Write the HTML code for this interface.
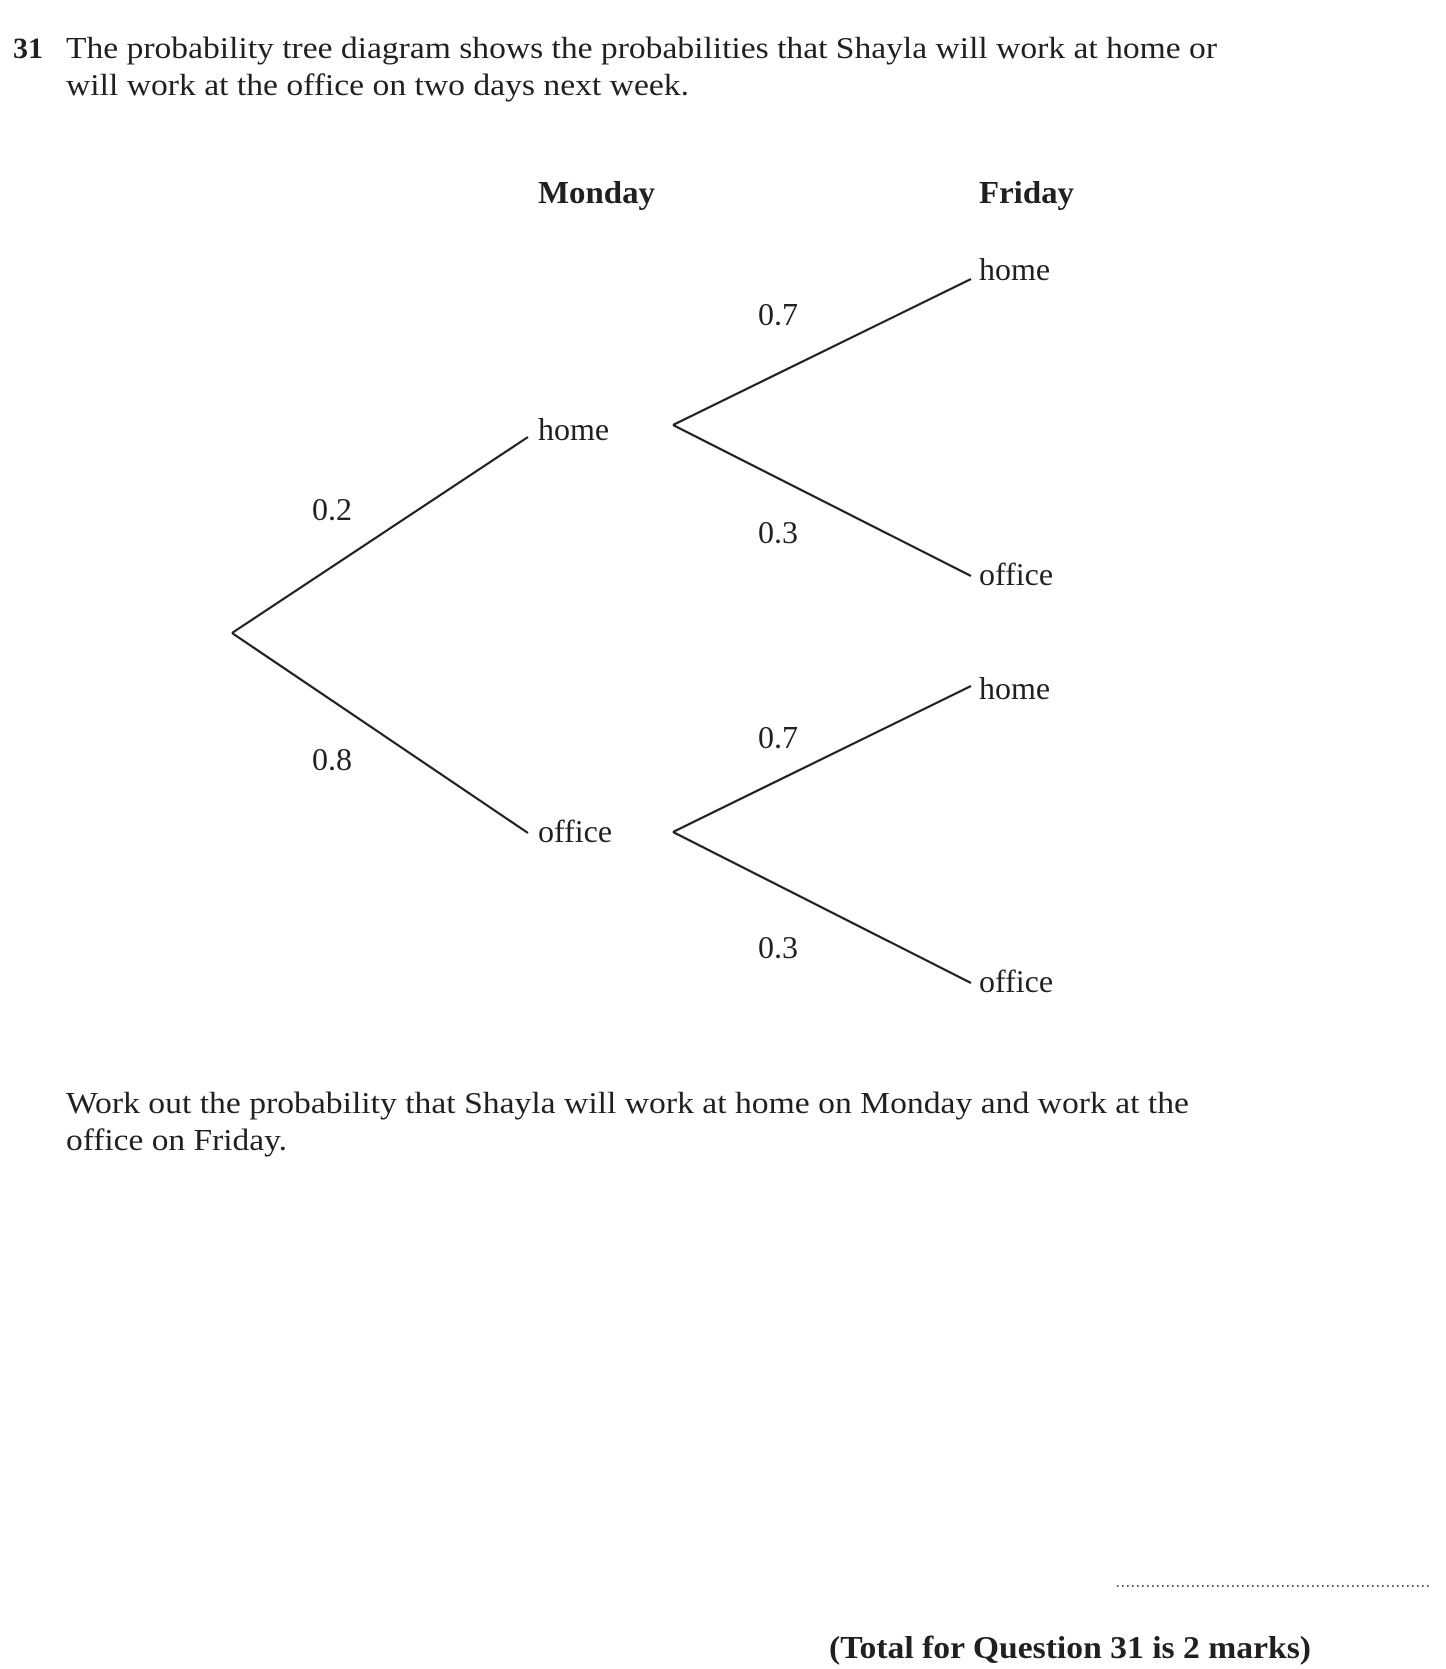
<!DOCTYPE html>
<html><head><meta charset="utf-8"><style>
html,body{margin:0;padding:0;background:#fff;}
svg{display:block;font-family:"Liberation Serif",serif;fill:#231f20;}
</style></head><body>
<svg id="s" width="1446" height="1669" viewBox="0 0 1446 1669">
<text x="13" y="58" font-size="30" font-weight="bold">31</text>
<text x="66" y="58" font-size="31" textLength="1151" lengthAdjust="spacingAndGlyphs">The probability tree diagram shows the probabilities that Shayla will work at home or</text>
<text x="66" y="95" font-size="31" textLength="623" lengthAdjust="spacingAndGlyphs">will work at the office on two days next week.</text>
<text x="538" y="203" font-size="32" font-weight="bold" textLength="117" lengthAdjust="spacingAndGlyphs">Monday</text>
<text x="979" y="203" font-size="32" font-weight="bold" textLength="95" lengthAdjust="spacingAndGlyphs">Friday</text>
<g id="tree"></g>
<text x="66" y="1113" font-size="31" textLength="1123" lengthAdjust="spacingAndGlyphs">Work out the probability that Shayla will work at home on Monday and work at the</text>
<text x="66" y="1150" font-size="31" textLength="221" lengthAdjust="spacingAndGlyphs">office on Friday.</text>
<line x1="1117" y1="1586" x2="1432" y2="1586" stroke="#231f20" stroke-width="1.6" stroke-dasharray="1.6,3.4"/>
<text x="829" y="1658" font-size="32" font-weight="bold" textLength="482" lengthAdjust="spacingAndGlyphs">(Total for Question 31 is 2 marks)</text>
</svg>
<script>
const mondayOutcomes = ["home", "office"];
const mondayProbs = ["0.2", "0.8"];
const fridayOutcomes = ["home", "office"];
const fridayProbs = ["0.7", "0.3"];

const NS = "http://www.w3.org/2000/svg";
const g = document.getElementById("tree");
function line(x1,y1,x2,y2,name){
  const l=document.createElementNS(NS,"line");
  l.setAttribute("x1",x1);l.setAttribute("y1",y1);l.setAttribute("x2",x2);l.setAttribute("y2",y2);
  l.setAttribute("stroke","#231f20");l.setAttribute("stroke-width","2.2");
  
  
  g.appendChild(l);
}
function text(x,y,s,name){
  const t=document.createElementNS(NS,"text");
  t.setAttribute("x",x);t.setAttribute("y",y);t.setAttribute("font-size","32");
  t.textContent=s;
  
  
  g.appendChild(t);
}
const root={x:232,y:633};
const midY=[437,833], midEndX=528, midLabelX=538;
const midLabelDy=[3,9];
const nodeX=673, nodeY=[425,832];
const leafX=971, leafOff=[-146,151];
const leafLabelX=979;
const leafLabelDy=[[1,9],[13,9]];
const probDy=[[-100,118],[-84,126]];
mondayOutcomes.forEach((o,i)=>{
  line(root.x,root.y,midEndX,midY[i],"branch-monday-"+o);
  text(midLabelX,midY[i]+midLabelDy[i],o,"label-monday-"+o);
  text(312,i===0?520:770,mondayProbs[i],"prob-monday-"+o);
  fridayOutcomes.forEach((f,j)=>{
    const ey=nodeY[i]+leafOff[j];
    line(nodeX,nodeY[i],leafX,ey,"branch-"+o+"-"+f);
    text(leafLabelX,ey+leafLabelDy[i][j],f,"label-friday-"+o+"-"+f);
    text(758,nodeY[i]+probDy[i][j],fridayProbs[j],"prob-"+o+"-"+f);
  });
});
</script>
</body></html>
